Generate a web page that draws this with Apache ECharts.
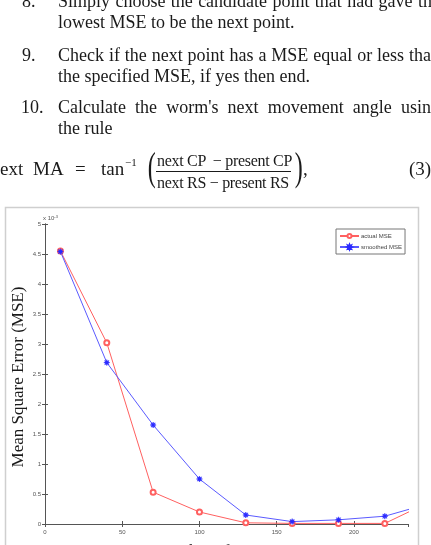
<!DOCTYPE html>
<html>
<head>
<meta charset="utf-8">
<title>MSE</title>
<script src="https://cdn.jsdelivr.net/npm/echarts@6/dist/echarts.min.js"></script>
<style>
    html, body { margin: 0; padding: 0; width: 431px; height: 545px; overflow: hidden; background: #fff; }
    #page { position: absolute; left: 0; top: 0; width: 431px; height: 545px; overflow: hidden; }
    .txt { position: absolute; font-family: "Liberation Serif", "DejaVu Serif", serif; font-size: 18px; line-height: 21px; color: #1a1a1a; white-space: nowrap; }
    .just { width: 382px; display: flex; justify-content: space-between; }
    .eq { font-size: 19px; line-height: 22px; }
    .frac { font-size: 16px; line-height: 20px; letter-spacing: -0.3px; }
    .paren { font-size: 40px; line-height: 44px; transform: scaleX(0.6); }
    .chart { position: absolute; left: 0; top: 0; width: 431px; height: 545px; }
</style>
</head>
<body>
<div id="page">
    <div class="chart"></div>
    <div class="txt" style="left:22px; top:-8.6px;">8.</div>
    <div class="txt just" style="left:58px; top:-8.6px;">Simply choose the candidate point that had gave the</div>
    <div class="txt" style="left:58px; top:12.4px;">lowest MSE to be the next point.</div>
    <div class="txt" style="left:22px; top:45.4px;">9.</div>
    <div class="txt just" style="left:58px; top:45.4px;">Check if the next point has a MSE equal or less than</div>
    <div class="txt" style="left:58px; top:66.4px;">the specified MSE, if yes then end.</div>
    <div class="txt" style="left:21px; top:97px;">10.</div>
    <div class="txt just" style="left:58px; top:97px;">Calculate the worm's next movement angle using</div>
    <div class="txt" style="left:58px; top:118px;">the rule</div>
    <!-- equation (3) -->
    <div class="txt eq" style="left:-9.5px; top:157.6px;">next</div>
    <div class="txt eq" style="left:33px; top:157.6px;">MA</div>
    <div class="txt eq" style="left:75px; top:157.6px;">=</div>
    <div class="txt eq" style="left:101px; top:157.6px;">tan</div>
    <div class="txt" style="left:125px; top:152px; font-size:11px;">&minus;1</div>
    <div class="txt paren" style="left:145px; top:145px;">(</div>
    <div class="txt frac" style="left:157px; top:150.6px;">next CP &nbsp;&minus; present CP</div>
    <div style="position:absolute; left:156px; top:171px; width:135px; height:1px; background:#1a1a1a;"></div>
    <div class="txt frac" style="left:157px; top:172.6px;">next RS &minus; present RS</div>
    <div class="txt paren" style="left:292px; top:145px;">)</div>
    <div class="txt eq" style="left:303px; top:157.6px;">,</div>
    <div class="txt eq" style="left:409px; top:157.6px;">(3)</div>
</div>
<script>
(function(){

    // iteration number (x) and MSE in units of 10^-3 (y)
    var iterations = [10, 40, 70, 100, 130, 160, 190, 220, 250];
    var actualMSE = [4.55, 3.02, 0.53, 0.20, 0.02, 0.01, 0.01, 0.01, 0.38];
    var smoothedMSE = [4.54, 2.69, 1.65, 0.75, 0.15, 0.04, 0.07, 0.13, 0.35];
    var seriesNames = ['actual MSE', 'smoothed MSE'];

    // spread the words of justified lines over the column width
    document.querySelectorAll('.just').forEach(function (el) {
        var words = el.textContent.split(' ');
        el.innerHTML = words.map(function (w) { return '<span>' + w + '</span>'; }).join('');
    });

    function pairs(xs, ys) {
        return xs.map(function (x, i) { return [x, ys[i]]; });
    }

    // matlab style '*' marker
    var starMarker = 'path://M10 0 L4.6 1.9 L7.07 7.07 L1.9 4.6 L0 10 L-1.9 4.6 L-7.07 7.07 L-4.6 1.9 L-10 0 L-4.6 -1.9 L-7.07 -7.07 L-1.9 -4.6 L0 -10 L1.9 -4.6 L7.07 -7.07 L4.6 -1.9 Z';

    var axisColor = '#555';
    var tickFont = { fontSize: 6, color: '#555', fontFamily: 'Liberation Sans, Arial, sans-serif' };

    var myChart = echarts.init(document.querySelector('.chart'));

    var option = {
        animation: false,
        backgroundColor: 'transparent',
        grid: { left: 45, top: 224, right: 23, bottom: 21, outerBoundsMode: 'none' },
        legend: {
            left: 336,
            top: 229,
            orient: 'vertical',
            data: seriesNames,
            itemWidth: 19,
            itemHeight: 5,
            itemGap: 5,
            padding: [4, 3, 4, 3],
            borderColor: '#777',
            borderWidth: 1,
            backgroundColor: '#fff',
            textStyle: { fontSize: 6, color: '#444', padding: [0, 0, 0, -3] }
        },
        xAxis: [{
            type: 'value',
            min: 0,
            max: 235,
            interval: 50,
            position: 'bottom',
            axisLine: { show: true, lineStyle: { color: axisColor } },
            axisTick: { show: true, inside: true, length: 3, lineStyle: { color: axisColor } },
            axisLabel: Object.assign({ margin: 5, showMaxLabel: false }, tickFont),
            splitLine: { show: false },
            name: 'Number of Iterations',
            nameLocation: 'middle',
            nameGap: 19,
            nameTextStyle: { fontFamily: 'Liberation Serif', fontSize: 17, color: '#1a1a1a', verticalAlign: 'top' }
        }, {
            type: 'value',
            min: 0,
            max: 235,
            interval: 50,
            position: 'top',
            axisLine: { show: true, lineStyle: { color: axisColor } },
            axisTick: { show: true, inside: true, length: 3, lineStyle: { color: axisColor } },
            axisLabel: { show: false },
            splitLine: { show: false }
        }],
        yAxis: [{
            type: 'value',
            min: 0,
            max: 5,
            interval: 0.5,
            position: 'left',
            axisLine: { show: true, lineStyle: { color: axisColor } },
            axisTick: { show: true, inside: true, length: 3, lineStyle: { color: axisColor } },
            axisLabel: Object.assign({ margin: 4 }, tickFont),
            splitLine: { show: false },
            name: '{a|x 10}{b|-3}',
            nameLocation: 'end',
            nameGap: 2,
            nameTextStyle: {
                align: 'left',
                padding: [0, 0, 0, -2],
                rich: {
                    a: { fontSize: 6, color: '#555' },
                    b: { fontSize: 4, color: '#555', verticalAlign: 'top', padding: [0, 0, 3, 0] }
                }
            }
        }, {
            type: 'value',
            min: 0,
            max: 5,
            interval: 0.5,
            position: 'right',
            axisLine: { show: true, lineStyle: { color: axisColor } },
            axisTick: { show: true, inside: true, length: 3, lineStyle: { color: axisColor } },
            axisLabel: { show: false },
            splitLine: { show: false }
        }],
        graphic: [{
            type: 'rect',
            shape: { x: 5.5, y: 207.5, width: 413, height: 400 },
            style: { fill: 'none', stroke: '#cfcfcf', lineWidth: 1.5 },
            silent: true
        }, {
            type: 'text',
            x: 19,
            y: 377,
            rotation: Math.PI / 2,
            style: {
                text: 'Mean Square Error (MSE)',
                font: '17px "Liberation Serif"',
                fill: '#1a1a1a',
                align: 'center',
                verticalAlign: 'middle'
            },
            silent: true
        }],
        series: [{
            name: seriesNames[0],
            type: 'line',
            data: pairs(iterations, actualMSE),
            symbol: 'emptyCircle',
            symbolSize: 5,
            lineStyle: { color: '#ff6060', width: 1 },
            itemStyle: { color: '#ff6060', borderWidth: 1 }
        }, {
            name: seriesNames[1],
            type: 'line',
            data: pairs(iterations, smoothedMSE),
            symbol: starMarker,
            symbolSize: 6,
            lineStyle: { color: '#5a5aff', width: 1 },
            itemStyle: { color: '#2a2aff', borderColor: '#2a2aff', borderWidth: 0.5 }
        }]
    };

    myChart.setOption(option);

})();
</script>
</body>
</html>
